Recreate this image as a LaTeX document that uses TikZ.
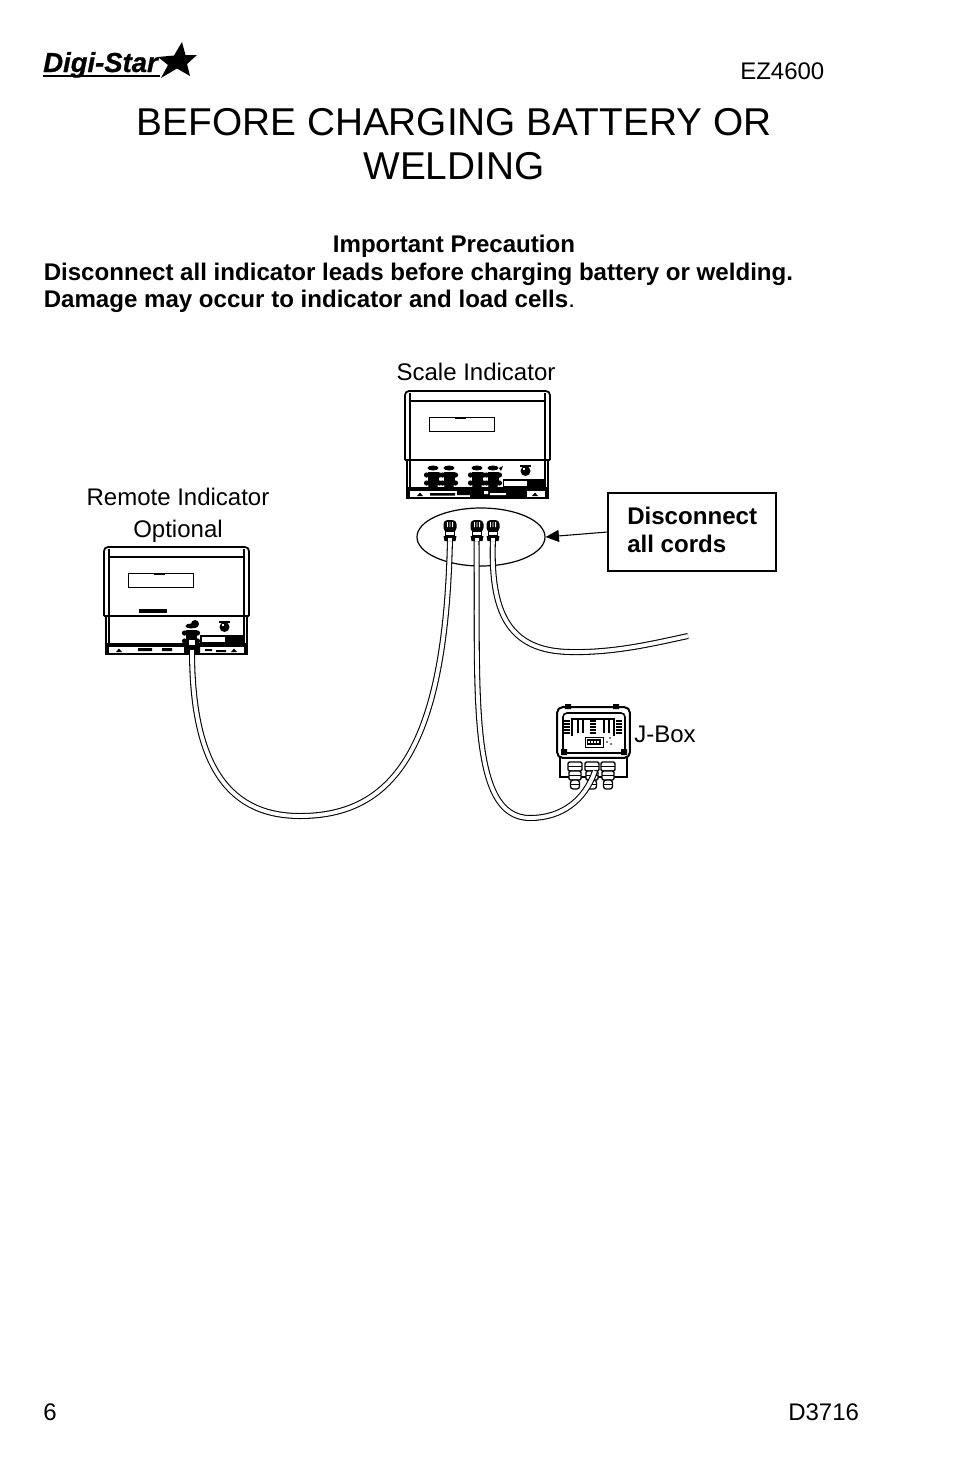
\documentclass[tikz,border=0pt]{standalone}
\usepackage{fontspec}
\setmainfont{Liberation Sans}
\newfontfamily\logofont[BoldItalicFeatures={FakeBold=0.8}]{Liberation Sans}
\usetikzlibrary{arrows.meta,positioning,shapes.geometric}

\tikzset{
  body/.style={font=\fontsize{18}{20.6}\selectfont, inner sep=0pt, anchor=base},
  bodyleft/.style={body, anchor=base west},
  headline/.style={font=\fontsize{29.1}{33}\selectfont, inner sep=0pt, align=center},
  strong/.style={bodyleft, font=\fontsize{18.06}{20.6}\selectfont\bfseries},
  cable/.style={draw=black, line width=0.8pt, double=white, double distance=2.9pt},
  flow/.style={-{Triangle[length=10pt, width=9pt]}, line width=0.8pt},
  indicator/.pic={
    % outer housing
    \draw[line width=1.3pt, rounded corners=3pt] (0,69) -- (0,0) -- (145,0) -- (145,69);
    \draw[line width=0.8pt] (5,2) -- (5,108) (140,2) -- (140,108);
    \draw[line width=0.8pt] (5,10) -- (140,10);
    \draw[line width=1.5pt] (0,69) -- (145,69);
    \draw[line width=1pt] (2,69) -- (2,108) (143,69) -- (143,108);
    % display
    \draw[line width=0.7pt] (24,26) rectangle (89,40);
    \fill (50,26) rectangle (61,28);
    % base strip
    \fill (2,96) rectangle (143,108);
    \fill[white] (5,99.5) rectangle (140,106);
    \fill (12,105) -- (15,101.5) -- (18,105) -- cycle;
    \fill (127,105) -- (130,101.5) -- (133,105) -- cycle;
    % knob
    \fill (120.5,80) circle (5);
    \fill[white] (118,77) rectangle (120,79);
    \fill (115,73.5) rectangle (126,75.5);
  },
  socket/.pic={
    \fill (0,-9) ellipse (5.5 and 2.5);
    \fill (-5.5,-5) rectangle (5.5,8);
    \fill (-6.5,-2) circle (2.6) (6.5,-2) circle (2.6) (-6.5,6) circle (2.6) (6.5,6) circle (2.6);
    \fill (0,9) ellipse (5 and 2.5);
  },
  plug/.pic={
    \fill[rounded corners=3pt] (-6.5,-14) rectangle (6.5,-2);
    \fill[white] (-3,-12) rectangle (-2.2,-7) (-0.4,-12) rectangle (0.4,-7) (2.2,-12) rectangle (3,-7);
    \draw[line width=1pt, fill=white] (-4.5,-3) rectangle (4.5,2);
    \fill (-6.5,2) -- (6.5,2) -- (5.5,7) -- (-5.5,7) -- cycle;
    \fill[white] (-1.8,3.5) rectangle (1.8,7);
  },
  gland/.pic={
    \draw[line width=1pt, fill=white, rounded corners=1pt] (-7,0) rectangle (7,9);
    \draw[line width=1pt, fill=white, rounded corners=1pt] (-6,9) rectangle (6,18);
    \draw[line width=1pt, fill=white, rounded corners=2pt] (-4.5,18) rectangle (4.5,27);
    \draw[line width=0.7pt] (-7,4) -- (7,4) (-6,13) -- (6,13) (-4.5,22) -- (4.5,22);
  }
}

\begin{document}
\begin{tikzpicture}[x=0.75pt, y=-0.75pt]
\useasboundingbox (0,0) rectangle (954,1475);

% ── Top: logo and model ──
\node[font=\fontsize{20.6}{22}\selectfont\logofont\bfseries\itshape, inner sep=0pt, anchor=base west] (logo) at (43,72) {Digi-Star};
\draw[line width=2pt] (43,76) -- (160,76);
\fill (182,42) -- (185.5,55) -- (197,55) -- (187,64) -- (190,76) -- (177,68.5) -- (161,78)
  -- (168,65) -- (158,57) -- (174,55.5) -- cycle;
\node[bodyleft] (model) at (740,79) {EZ4600};

% ── Title and warning ──
\node[headline, anchor=base] (titleone) at (454,135) {BEFORE CHARGING BATTERY OR};
\node[headline, anchor=base] (titletwo) at (454,179) {WELDING};
\node[strong, anchor=base] (warnhead) at (454,252) {Important Precaution};
\node[strong] (warnone) at (43.5,280) {Disconnect all indicator leads before charging battery or welding.};
\node[strong] (warntwo) at (43.5,307) {Damage may occur to indicator and load cells\textmd{.}};

% ── Scale indicator ──
\node[body] (scalelbl) at (476,380) {Scale Indicator};
\pic at (405,391) {indicator};
\pic at (433,477) {socket};
\pic at (449,477) {socket};
\pic at (477,477) {socket};
\pic at (493,477) {socket};
\fill (499,468) -- (503,466) -- (501,471) -- cycle;
\fill (503,479) rectangle (544,487);
\fill[white] (504,481) rectangle (527,486);
\fill (470,490) rectangle (527,497);
\fill (430,493) rectangle (455,495.5) (457,491) rectangle (470,495);
\fill[white] (484,491) rectangle (488,494) (490,493) rectangle (506,495);

% ── Remote indicator ──
\node[body] (remotelbl) at (178,505) {Remote Indicator};
\node[body] (optlbl) at (178,537) {Optional};
\pic at (104,547) {indicator};
\fill (139,609) rectangle (167,613);
\fill (200,635) rectangle (243,643);
\fill[white] (202,636.5) rectangle (225,641.5);
\fill (138,648) rectangle (152,651) (162,648) rectangle (172,651);
\fill (184,646) rectangle (200,654) (205,649) rectangle (212,651) (216,650) rectangle (226,652);

% ── Disconnect callout ──
\node[draw, ellipse, line width=0.9pt, minimum width=96pt, minimum height=43.5pt, inner sep=0pt] (cords) at (481,537) {};
\node[draw, line width=0.9pt, minimum width=126pt, minimum height=58.5pt, inner sep=0pt] (callout) at (692,532) {};
\node[strong] (calloutone) at (627,524) {Disconnect};
\node[strong] (callouttwo) at (627,552) {all cords};
\draw[flow] (callout.west) -- (cords.east);

% ── J-box ──
\node[bodyleft] (jboxlbl) at (634,742) {J-Box};
\draw[line width=1pt] (560,755) -- (560,777) -- (627,777) -- (627,755);
\pic at (575,762) {gland};
\pic at (592,762) {gland};
\pic at (608,762) {gland};
\node[draw, fill=white, line width=1.5pt, rounded corners=4pt, minimum width=54.5pt, minimum height=38pt, inner sep=0pt] (jbox) at (593.5,732.5) {};
\draw[line width=1.2pt, rounded corners=3pt] (563,713) rectangle (625,753);
\fill (565,704) rectangle (571,709) (613,704) rectangle (619,709);
\fill (561,749) rectangle (567,755) (621,749) rectangle (627,755);
\draw[line width=1.6pt] (572,736) -- (572,719) -- (614,719) -- (614,736);
\foreach \px in {578,583,604,609}
  \draw[line width=1.3pt] (\px,720) -- (\px,733);
\foreach \py in {721,724,727,730,733}
  \draw[line width=0.8pt] (564,\py) -- (570,\py) (616,\py) -- (622,\py) (590,\py) -- (596,\py);
\draw[line width=0.6pt] (585,737) rectangle (603,747);
\fill (587,739) rectangle (601,745);
\foreach \px in {588,591,594,597}
  \fill[white] (\px,741) rectangle ++(1.5,2);
\fill (610,738) circle (0.8) (607,742) circle (0.8) (611,744) circle (0.8);

% ── Cables ──
\coordinate (remoteport) at (192,650);
\coordinate (scaleleft) at (450,538);
\coordinate (scalemid) at (476.5,538);
\coordinate (scaleright) at (493,538);
\coordinate (jboxport) at (595,771);
\coordinate (loosend) at (688,636);

\draw[cable] (remoteport) .. controls (192,755) and (222,816) .. (300,816)
  .. controls (395,816) and (446,745) .. (scaleleft);
\draw[cable] (scalemid) .. controls (478,690) and (468,818) .. (530,818)
  .. controls (562,818) and (585,800) .. (jboxport);
\draw[cable] (scaleright) .. controls (490,612) and (508,651) .. (570,652)
  .. controls (615,653) and (655,643) .. (loosend);

% ── Plugs ──
\pic at (450,534) {plug};
\pic at (477,534) {plug};
\pic at (493,534) {plug};
\pic at (191,635) {socket};
\fill (195,624) circle (4);
\fill[white] (189,640) rectangle (195,645);

% ── Page footer ──
\node[bodyleft] (pagenum) at (43,1420) {6};
\node[bodyleft] (docnum) at (788,1420) {D3716};

\end{tikzpicture}
\end{document}
